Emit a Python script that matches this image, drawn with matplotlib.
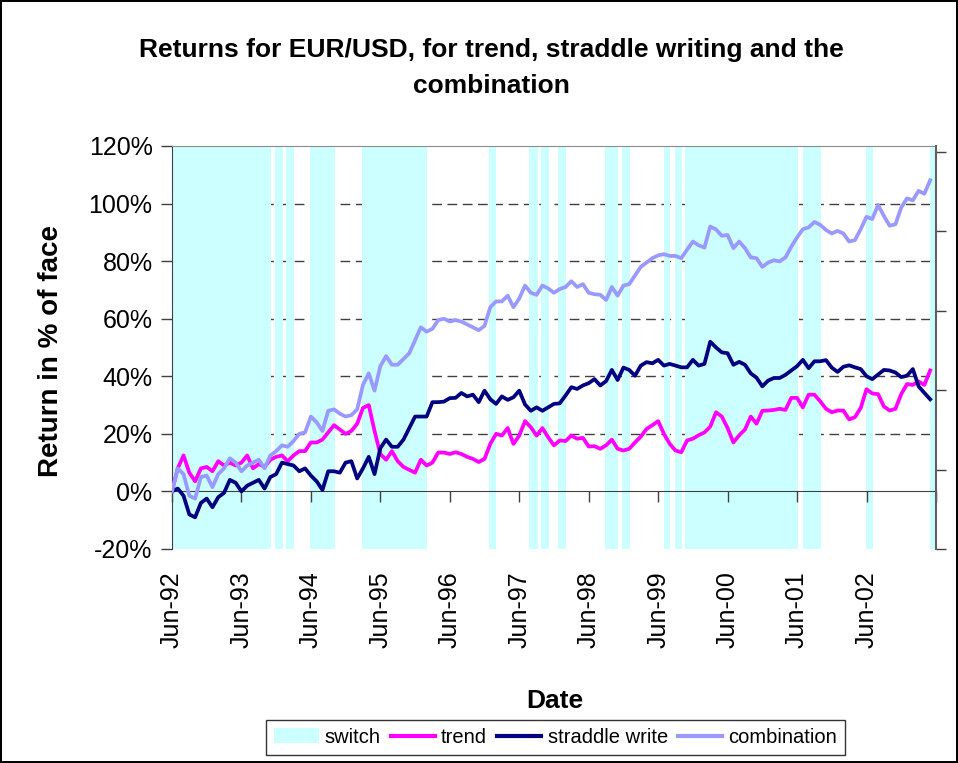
import numpy as np
import matplotlib.pyplot as plt
from matplotlib.patches import Patch
from matplotlib.lines import Line2D
from matplotlib.ticker import FuncFormatter

plt.rcParams['font.family'] = ['Liberation Sans', 'DejaVu Sans']

# monthly returns in % of face, Jun-92 .. May-03
trend = [0, 8, 12.5, 6.5, 3.5, 8, 8.5, 7, 10.5, 9, 10, 9, 10, 12.5, 8, 9.5, 8.5, 11, 12, 12.5,
         10.5, 12.5, 14, 14, 17, 17, 18, 20.5, 23, 21.5, 20, 21, 23.5, 29, 30, 21, 13, 11, 14, 10.5,
         8.5, 7.5, 6.5, 11, 9, 10, 13.5, 13.5, 13, 13.6, 13, 12, 11.3, 10.2, 11.3, 16.5, 20, 19.4, 22, 16.5,
         19.4, 24.4, 22.3, 19.4, 22, 18.8, 16, 17.7, 17.5, 19.4, 18.3, 18.6, 15.6, 15.7, 14.8, 16, 18, 14.8, 14.2, 14.8,
         17, 19, 21.7, 23, 24.4, 20, 16.5, 14.2, 13.6, 17.7, 18.3, 19.5, 20.5, 22.5, 27.5, 26, 22, 17, 19.5, 21.5,
         26, 23.5, 28, 28.1, 28.3, 28.7, 28.3, 32.5, 32.5, 29.2, 33.6, 33.6, 31.3, 28.7, 27.5, 28.1, 28.1, 25, 25.8, 29,
         35.5, 34, 33.8, 29.5, 28.1, 28.7, 33.8, 37.3, 37, 38.2, 37, 42]
straddle = [0, 1, -1.5, -8, -9, -4, -2.5, -5.5, -2, -0.5, 4, 3, 0, 2, 3, 4, 1, 5, 6, 10,
            9.5, 9, 7, 8, 5.5, 3.5, 0.5, 7, 7, 6.5, 10, 10.5, 4.5, 8, 12, 6, 15, 18, 15.5, 15.5,
            18, 22, 26, 26, 26, 31, 31, 31.2, 32.4, 32.5, 34.2, 33, 33.6, 31, 35, 32, 30.4, 33, 31.8, 32.7,
            35, 30.2, 28, 29.2, 28, 29.2, 30.4, 30.6, 33.3, 36.2, 35.6, 36.8, 37.6, 39, 36.8, 38.3, 42.2, 38.7, 43, 42.2,
            40.2, 43.7, 44.9, 44.5, 45.7, 43.7, 44.3, 43.7, 43.1, 43.1, 45.7, 43.7, 44.3, 52, 50, 48.3, 48, 44, 45, 44,
            41, 39.5, 36.5, 38.5, 39.4, 39.4, 40.5, 42, 43.5, 45.7, 42.8, 45.2, 45.2, 45.6, 43, 41.5, 43.3, 43.8, 43.1, 42.5,
            40, 39, 40.6, 42.2, 42, 41.3, 39.7, 40.2, 42.5, 36.5, 34.2, 32]
combination = [0, 8, 6, -1.5, -2.5, 5, 5.5, 1.5, 6, 8, 11.5, 10, 7, 9, 10, 11, 8, 12.5, 14, 16,
               15.5, 17.5, 20, 20.5, 26, 24, 21, 28, 28.5, 27, 26, 26.5, 28.5, 37, 41, 35, 43.5, 47, 44, 44,
               46, 48, 52.5, 57, 55.5, 56.5, 59.5, 60, 59, 59.5, 59, 58, 57, 56, 57.5, 64, 66, 66, 68, 64,
               67, 71.5, 69, 68.3, 71.5, 70.5, 69, 70.3, 71, 73, 71, 72, 69, 68.5, 68.3, 66.5, 71, 68, 71.5, 72,
               75, 78, 79.5, 81, 82, 82.4, 81.8, 81.8, 81, 84, 86.8, 85.5, 84.7, 92, 91, 88.8, 89.1, 84.5, 86.8, 84.5,
               81.3, 81, 78, 79.5, 80.3, 79.9, 81.3, 85, 88.2, 91.1, 91.7, 93.6, 92.6, 90.8, 89.6, 90.5, 89.6, 86.8, 87.3, 91.1,
               95.4, 94.6, 99.5, 95.7, 92.3, 92.8, 98.6, 101.8, 101.1, 104.4, 103.4, 108.1]

# periods where the switch is on (month index from Jun-92)
switch_start = [0, 17.8, 19.7, 23.8, 32.8, 54.7, 61.7, 63.7, 66.7, 74.8, 77.7, 85.0, 86.9, 88.6, 109.0, 119.9, 130.9]
switch_end = [17.1, 19.2, 21.1, 28.2, 44.0, 56.0, 63.2, 65.1, 68.0, 77.0, 79.1, 86.0, 88.1, 108.1, 112.1, 121.1, 132.0]

tick_labels = ['Jun-92', 'Jun-93', 'Jun-94', 'Jun-95', 'Jun-96', 'Jun-97',
               'Jun-98', 'Jun-99', 'Jun-00', 'Jun-01', 'Jun-02']

c_switch = '#CCFFFF'
c_trend = '#FF00FF'
c_straddle = '#000080'
c_comb = '#9999FF'

fig = plt.figure(figsize=(9.58, 7.63), dpi=100, linewidth=1.5, edgecolor='black')
ax = fig.add_axes([0.1795, 0.2805, 0.7975, 0.5282])

months = np.arange(len(trend))
n_months = 132

# grid below the shading
grid_vals = [20, 40, 60, 80, 100]
ax.hlines(grid_vals, 0, n_months, colors='#404040', linestyles=(0, (7, 4)), linewidth=1, zorder=0.5)

for s, e in zip(switch_start, switch_end):
    ax.axvspan(s, e, color=c_switch, lw=0, zorder=1)

ax.plot(months, trend, color=c_trend, lw=2.7, zorder=3)
ax.plot(months, straddle, color=c_straddle, lw=2.7, zorder=3)
ax.plot(months, combination, color=c_comb, lw=2.7, zorder=3)

ax.set_xlim(0, n_months)
ax.set_ylim(-20, 120)
ax.set_yticks(np.arange(-20, 121, 20))
ax.yaxis.set_major_formatter(FuncFormatter(lambda v, p: f'{v:.0f}%'))
ax.tick_params(axis='y', direction='out', length=8, width=1, labelsize=18, pad=6, color='#404040')

# x axis crosses at 0%
ax.spines['bottom'].set_position(('data', 0))
ax.spines['bottom'].set_color('#404040')
ax.spines['left'].set_color('#404040')
ax.spines['top'].set_color('#8c8c8c')
ax.spines['right'].set_visible(False)
ax.set_xticks(np.arange(0, n_months + 1, 12))
ax.tick_params(axis='x', direction='out', length=8, width=1, labelbottom=False, color='#404040')

sec = ax.secondary_xaxis(0)
sec.set_xticks(np.arange(0, 121, 12), tick_labels)
sec.tick_params(length=0, pad=16, labelsize=18)
for lab in sec.get_xticklabels():
    lab.set_rotation(90)
sec.spines['bottom'].set_visible(False)

# secondary y axis, ticks only
ax2 = ax.twinx()
ax2.set_ylim(0, 5.075)
ax2.set_yticks(np.arange(0, 6, 1))
ax2.set_yticklabels([])
ax2.tick_params(axis='y', direction='out', length=7, width=1, color='#404040')
for side in ['left', 'top', 'bottom']:
    ax2.spines[side].set_visible(False)
ax2.spines['right'].set_color('#606060')
ax2.spines['right'].set_linewidth(1.5)

fig.text(0.5125, 0.911, 'Returns for EUR/USD, for trend, straddle writing and the\ncombination',
         ha='center', va='center', fontsize=19, fontweight='bold', linespacing=1.6)
fig.text(0.053, 0.54, 'Return in % of face', rotation=90, ha='center', va='center',
         fontsize=20, fontweight='bold')
fig.text(0.579, 0.081, 'Date', ha='center', va='center', fontsize=19, fontweight='bold')

handles = [Patch(facecolor=c_switch, edgecolor='none'),
           Line2D([], [], color=c_trend, lw=3),
           Line2D([], [], color=c_straddle, lw=3),
           Line2D([], [], color=c_comb, lw=3)]
leg = fig.legend(handles, ['switch', 'trend', 'straddle write', 'combination'],
                 loc='center', bbox_to_anchor=(0.58, 0.034), ncol=4, fontsize=14.5,
                 frameon=True, fancybox=False, edgecolor='black', handlelength=2.2,
                 handletextpad=0.3, columnspacing=0.5, borderpad=0.4)
leg.get_frame().set_linewidth(1)

fig.savefig('out.png', dpi=100)
